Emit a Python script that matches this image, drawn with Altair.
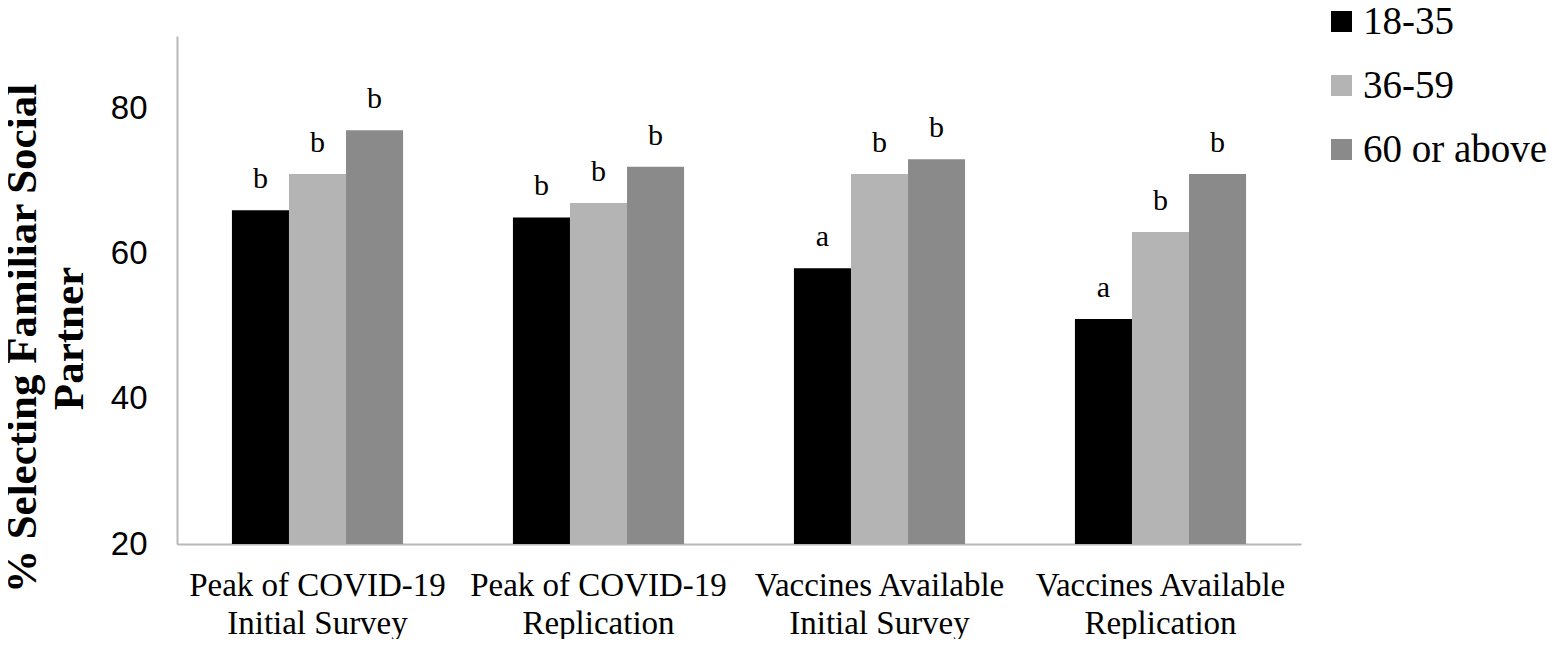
import altair as alt
import pandas as pd

conditions = [
    "Peak of COVID-19|Initial Survey",
    "Peak of COVID-19|Replication",
    "Vaccines Available|Initial Survey",
    "Vaccines Available|Replication",
]
age_groups = ["18-35", "36-59", "60 or above"]
values_18_35 = [66, 65, 58, 51]
values_36_59 = [71, 67, 71, 63]
values_60_up = [77, 72, 73, 71]
letters_18_35 = ["b", "b", "a", "a"]
letters_36_59 = ["b", "b", "b", "b"]
letters_60_up = ["b", "b", "b", "b"]
colors = ["#000000", "#b4b4b4", "#8a8a8a"]
y_base = 20

rows = []
for grp, vals, lets in zip(age_groups,
                           [values_18_35, values_36_59, values_60_up],
                           [letters_18_35, letters_36_59, letters_60_up]):
    for c, v, l in zip(conditions, vals, lets):
        rows.append({"condition": c, "age": grp, "value": v, "letter": l})
df = pd.DataFrame(rows)

x_enc = alt.X(
    "condition:N",
    sort=conditions,
    scale=alt.Scale(paddingInner=0.391, paddingOuter=0.1955),
    axis=alt.Axis(
        title=None,
        labelExpr="split(datum.label, '|')",
        labelAngle=0,
        labelFont="Liberation Serif",
        labelFontSize=33,
        labelColor="#000000",
        labelLineHeight=38,
        labelBaseline="top",
        labelPadding=25,
        labelLimit=500,
        ticks=False,
        domainColor="#b8b8b8",
        domainWidth=2,
        grid=False,
    ),
)
xoff = alt.XOffset("age:N", sort=age_groups, scale=alt.Scale(paddingInner=0, paddingOuter=0))
y_enc = alt.Y(
    "value:Q",
    scale=alt.Scale(domain=[20, 90], nice=False, zero=False),
    axis=alt.Axis(
        values=[20, 40, 60, 80],
        title=["% Selecting Familiar Social", "Partner"],
        titleFont="Liberation Serif",
        titleFontSize=43,
        titleFontWeight="bold",
        titleColor="#000000",
        titleLineHeight=47,
        titleAngle=-90,
        titleBaseline="alphabetic",
        titleX=-142,
        titleY=302,
        titleAlign="center",
        labelFont="Liberation Sans",
        labelFontSize=33,
        labelColor="#000000",
        labelPadding=30,
        ticks=False,
        domainColor="#b8b8b8",
        domainWidth=2,
        grid=False,
    ),
)

bars = alt.Chart(df).mark_bar().encode(
    x=x_enc,
    xOffset=xoff,
    y=y_enc,
    y2=alt.datum(y_base),
    color=alt.Color(
        "age:N",
        sort=age_groups,
        scale=alt.Scale(domain=age_groups, range=colors),
        legend=alt.Legend(
            title=None,
            orient="none",
            legendX=1145,
            legendY=-34,
            symbolType="square",
            symbolSize=441,
            symbolStrokeWidth=0,
            symbolOpacity=1,
            labelFont="Liberation Serif",
            labelFontSize=39,
            labelColor="#000000",
            labelOffset=2,
            rowPadding=24,
            labelLimit=400,
        ),
    ),
)

letters = alt.Chart(df).mark_text(
    font="Liberation Serif", fontSize=30, baseline="alphabetic", dy=-22, color="#000000"
).encode(
    x=alt.X("condition:N", sort=conditions),
    xOffset=alt.XOffset("age:N", sort=age_groups),
    y=alt.Y("value:Q"),
    text="letter:N",
)

chart = alt.layer(bars, letters).properties(
    width=1124,
    height=508,
    autosize=alt.AutoSizeParams(type="none"),
    padding={"left": 169, "top": 28, "right": 250, "bottom": 95},
).configure(background="#ffffff").configure_view(stroke="transparent", strokeWidth=0)

chart.save("out.html", embed_options={"renderer": "svg", "actions": False})
